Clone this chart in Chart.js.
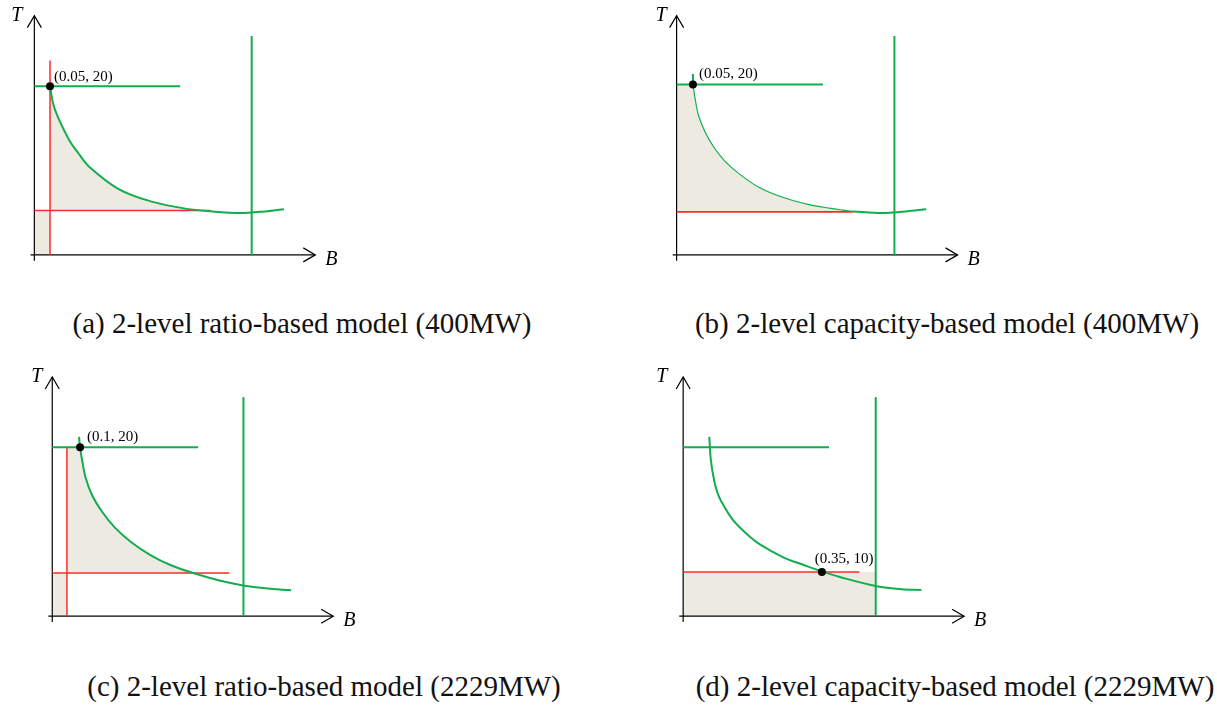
<!DOCTYPE html>
<html>
<head>
<meta charset="utf-8">
<script src="https://cdn.jsdelivr.net/npm/chart.js@4.4.1/dist/chart.umd.min.js"></script>
<style>
  body { margin: 0; background: #fff; width: 1217px; height: 705px; position: relative; overflow: hidden; }
  canvas { position: absolute; }
  .cap { position: absolute; font-family: 'Liberation Serif', serif; font-size: 29px; line-height: 1;
         white-space: nowrap; transform: translateX(-50%); color: #111; }
</style>
</head>
<body>
<canvas id="pa" width="380" height="290" style="left:0;top:0"></canvas>
<canvas id="pb" width="380" height="290" style="left:640px;top:0"></canvas>
<canvas id="pc" width="380" height="290" style="left:0;top:360px"></canvas>
<canvas id="pd" width="380" height="290" style="left:640px;top:360px"></canvas>
<div class="cap" style="left:302px;top:309px">(a) 2-level ratio-based model (400MW)</div>
<div class="cap" style="left:947px;top:309px">(b) 2-level capacity-based model (400MW)</div>
<div class="cap" style="left:324px;top:672px">(c) 2-level ratio-based model (2229MW)</div>
<div class="cap" style="left:955px;top:672px">(d) 2-level capacity-based model (2229MW)</div>
<script>
const GREEN = '#12ad4e', RED = '#ff2a2a', SHADE = '#edebe1', INK = '#000';

// axes, in schematic units [B, T]
const axisB = [-4, 287];
const axisT = [-6, 246];

// (a) ratio-based, 400MW
const aCurve = [[16,173.5],[19,156.3],[24,142],[35.7,118],[45,104.5],[55.7,91],[85.7,68],[119,55],
                [155.7,47.3],[182,44.7],[209,43],[235.7,44.7],[255,47]];
const aShade = [[16,173.5],[19,156.3],[24,142],[35.7,118],[45,104.5],[55.7,91],[85.7,68],[119,55],
                [155.7,47.3],[176,45.7]];
const aCorner = [[0,45.7],[16,45.7]];
const aTop = [[0,173.5],[149,173.5]];
const aWall = [[221.5,0],[222,225]];
const aRedV = [[16,0],[16,200]];
const aRedH = [[0,45.7],[180,45.7]];
const aPoint = [[16,173.5]];

// (b) capacity-based, 400MW
const bCurve = [[16.7,175.3],[19,160],[22.4,143.3],[29,126.7],[37.4,111.7],[49,96.7],[64,83.3],[84,69.5],
                [107.4,59.5],[134,52],[157.4,47.8],[170,46],[180,44.7]];
const bTail = [[180,44.7],[210,43],[233.4,44.7],[255,47]];
const bTick = [[16.7,186],[16.7,175.3]];
const bCorner = [[0,175.3],[17.5,175.3]];
const bTop = [[0,175.3],[149.5,175.3]];
const bWall = [[223,0],[222.5,225]];
const bRedH = [[0,44.3],[180,44.3]];
const bPoint = [[16.7,175.3]];

// (c) ratio-based, 2229MW
const cCurve = [[27.4,184.3],[28.4,173.6],[30.7,159.3],[34,142.6],[40.7,124.3],[50.7,107.6],[64,91],[80.7,76],
                [100.7,62.6],[120.7,52.6],[144,44.3],[170.7,36.6],[195,31.6],[217.4,28.6],[244,26.6]];
const cShade = [[28.4,173.6],[30.7,159.3],[34,142.6],[40.7,124.3],[50.7,107.6],[64,91],[80.7,76],
                [100.7,62.6],[120.7,52.6],[144,44.3]];
const cStrip = [[15,173.6],[29.4,173.6]];
const cCorner = [[0,44.3],[15,44.3]];
const cTop = [[0,173.6],[149,173.6]];
const cWall = [[195.3,0],[195.3,225.3]];
const cRedV = [[15,0],[15,173.6]];
const cRedH = [[0,44.3],[181,44.3]];
const cPoint = [[28.4,173.6]];

// (d) capacity-based, 2229MW
const dCurve = [[26.7,184.3],[28.3,160.5],[31.7,139.3],[35,127],[38.3,119.3],[50,100],[63.3,86],[78,74],
                [103.3,60],[123.3,52.6],[141.7,46],[160,40.3],[196.7,31],[223.3,27.6],[243.3,27]];
const dBase = [[0,45.5],[196.7,45.5]];
const dTop = [[0,173.6],[149,173.6]];
const dWall = [[196.7,0],[196.7,225.3]];
const dRedH = [[0,45.5],[180,45.5]];
const dPoint = [[141.7,45.5]];

const pts = arr => arr.map(p => ({ x: p[0], y: p[1] }));

function line(arr, color, width, curved) {
    return {
        data: pts(arr), showLine: true, borderColor: color, borderWidth: width,
        pointRadius: 0, fill: false, order: 5, tension: curved ? 0.35 : 0
    };
}

function shade(arr, fill, curved) {
    return {
        data: pts(arr), showLine: true, borderColor: 'rgba(0,0,0,0)', borderWidth: 0,
        backgroundColor: SHADE, pointRadius: 0, fill: fill, order: 20, tension: curved ? 0.35 : 0
    };
}

function marker(arr) {
    return { data: pts(arr), showLine: false, pointRadius: 4, pointBackgroundColor: INK, pointBorderWidth: 0, order: 0 };
}

function axes() {
    return [
        line([[axisB[0], 0], [axisB[1], 0]], INK, 1.2),
        line([[0, axisT[0]], [0, axisT[1]]], INK, 1.2)
    ];
}

// arrow heads and text labels
const schematic = {
    id: 'schematic',
    afterDraw(chart, args, opts) {
        const { ctx } = chart;
        const x = chart.scales.x, y = chart.scales.y;
        const ox = x.getPixelForValue(0), oy = y.getPixelForValue(0);
        const tipX = x.getPixelForValue(axisB[1]), tipY = y.getPixelForValue(axisT[1]);
        ctx.save();
        ctx.strokeStyle = INK;
        ctx.lineWidth = 1.2;
        ctx.beginPath();
        ctx.moveTo(tipX - 12, oy - 7); ctx.lineTo(tipX, oy); ctx.lineTo(tipX - 12, oy + 7);
        ctx.moveTo(ox - 7, tipY + 12); ctx.lineTo(ox, tipY); ctx.lineTo(ox + 7, tipY + 12);
        ctx.stroke();
        ctx.fillStyle = INK;
        ctx.font = 'italic 20px "Liberation Serif"';
        ctx.fillText('T', ox + opts.tx, tipY + 5);
        ctx.fillText('B', tipX + 10, oy + 10);
        if (opts.label) {
            ctx.font = '15px "Liberation Serif"';
            ctx.fillText(opts.label, x.getPixelForValue(opts.at[0]) + opts.dx, y.getPixelForValue(opts.at[1]) + opts.dy);
        }
        ctx.restore();
    }
};

function panel(id, view, datasets, note) {
    new Chart(document.getElementById(id), {
        type: 'scatter',
        data: { datasets: datasets },
        options: {
            responsive: false,
            animation: false,
            events: [],
            layout: { padding: 0 },
            scales: {
                x: { type: 'linear', display: false, min: view[0], max: view[1] },
                y: { type: 'linear', display: false, min: view[2], max: view[3] }
            },
            plugins: { legend: { display: false }, tooltip: { enabled: false }, schematic: note }
        },
        plugins: [schematic]
    });
}

panel('pa', [-31, 349, -32, 258], [
    marker(aPoint),
    line(aCurve, GREEN, 2, true),
    line(aTop, GREEN, 2),
    line(aWall, GREEN, 2),
    line(aRedV, RED, 1.5),
    line(aRedH, RED, 1.5),
    ...axes(),
    shade(aShade, { value: 45.7 }, true),
    shade(aCorner, 'origin')
], { tx: -23, label: '(0.05, 20)', at: aPoint[0], dx: 4, dy: -5 });

panel('pb', [-33.3, 346.7, -32, 258], [
    marker(bPoint),
    line(bCurve, GREEN, 1.2, true),
    line(bTail, GREEN, 2, true),
    line(bTick, GREEN, 2),
    line(bTop, GREEN, 2),
    line(bWall, GREEN, 2),
    line(bRedH, RED, 1.8),
    ...axes(),
    shade(bCurve, { value: 44.3 }, true),
    shade(bCorner, { value: 44.3 })
], { tx: -21, label: '(0.05, 20)', at: bPoint[0], dx: 6, dy: -6 });

panel('pc', [-49.3, 330.7, -30.7, 259.3], [
    marker(cPoint),
    line(cCurve, GREEN, 2, true),
    line(cTop, GREEN, 2),
    line(cWall, GREEN, 2),
    line(cRedV, RED, 1.5),
    line(cRedH, RED, 1.5),
    ...axes(),
    shade(cShade, { value: 44.3 }, true),
    shade(cStrip, { value: 44.3 }),
    shade(cCorner, 'origin')
], { tx: -21, label: '(0.1, 20)', at: cPoint[0], dx: 7, dy: -6 });

panel('pd', [-40, 340, -30.7, 259.3], [
    marker(dPoint),
    line(dCurve, GREEN, 2, true),
    line(dTop, GREEN, 2),
    line(dWall, GREEN, 2),
    line(dRedH, RED, 1.5),
    ...axes(),
    shade(dBase, 'origin')
], { tx: -27, label: '(0.35, 10)', at: dPoint[0], dx: -7, dy: -9 });
</script>
</body>
</html>
